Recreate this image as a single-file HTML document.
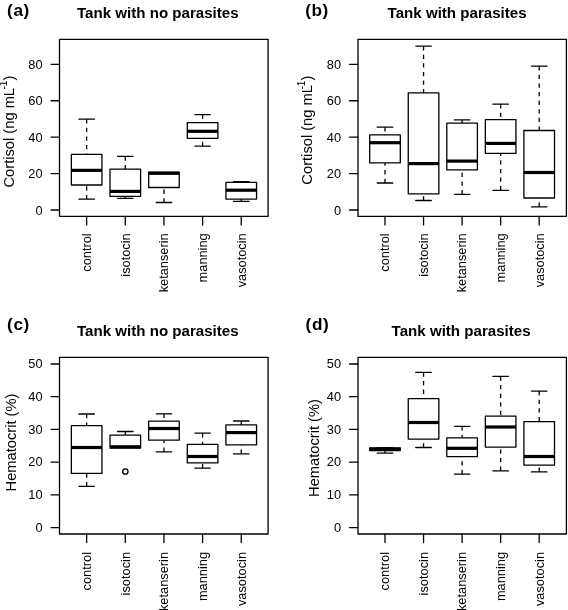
<!DOCTYPE html>
<html><head><meta charset="utf-8"><style>
html,body{margin:0;padding:0;background:#fff;}
svg{display:block;will-change:transform;}
text{font-family:"Liberation Sans",sans-serif;fill:#000;}
.s line,.s rect,.s circle{stroke:#000;stroke-width:1.3;stroke-linecap:round;stroke-linejoin:round;}
.s .w{stroke-dasharray:4.3 4.3;stroke-linecap:butt;}
.s .m{stroke-width:3.2;stroke-linecap:butt;}
.tk{font-size:12.8px;}
.yl{font-size:14.7px;}
.yc{font-size:14.7px;}
.sup{font-size:10px;}
.ti{font-size:15.1px;font-weight:bold;}
.pl{font-size:17.2px;font-weight:bold;letter-spacing:0.6px;}
</style></head><body>
<svg width="568" height="610" viewBox="0 0 568 610">
<rect width="568" height="610" fill="#fff"/>
<g class="s"><line x1="86.65" y1="119.2" x2="86.65" y2="154.4" class="w"/><line x1="86.65" y1="199.2" x2="86.65" y2="185" class="w"/><line x1="78.9" y1="119.2" x2="94.4" y2="119.2"/><line x1="78.9" y1="199.2" x2="94.4" y2="199.2"/><rect x="71.35" y="154.4" width="30.6" height="30.6" fill="#fff"/><line x1="71.35" y1="170.35" x2="101.95" y2="170.35" class="m"/><line x1="125.3" y1="156.4" x2="125.3" y2="169.2" class="w"/><line x1="125.3" y1="198.3" x2="125.3" y2="196.3" class="w"/><line x1="117.55" y1="156.4" x2="133.05" y2="156.4"/><line x1="117.55" y1="198.3" x2="133.05" y2="198.3"/><rect x="110" y="169.2" width="30.6" height="27.1" fill="#fff"/><line x1="110" y1="191.4" x2="140.6" y2="191.4" class="m"/><line x1="163.95" y1="202.5" x2="163.95" y2="187.5" class="w"/><line x1="156.2" y1="202.5" x2="171.7" y2="202.5"/><rect x="148.65" y="172.1" width="30.6" height="15.4" fill="#fff"/><line x1="148.65" y1="173.3" x2="179.25" y2="173.3" class="m"/><line x1="202.6" y1="114.6" x2="202.6" y2="122.6" class="w"/><line x1="202.6" y1="146.1" x2="202.6" y2="138.3" class="w"/><line x1="194.85" y1="114.6" x2="210.35" y2="114.6"/><line x1="194.85" y1="146.1" x2="210.35" y2="146.1"/><rect x="187.3" y="122.6" width="30.6" height="15.7" fill="#fff"/><line x1="187.3" y1="131.3" x2="217.9" y2="131.3" class="m"/><line x1="241.25" y1="181.6" x2="241.25" y2="182.4" class="w"/><line x1="241.25" y1="201.4" x2="241.25" y2="199.1" class="w"/><line x1="233.5" y1="181.6" x2="249" y2="181.6"/><line x1="233.5" y1="201.4" x2="249" y2="201.4"/><rect x="225.95" y="182.4" width="30.6" height="16.7" fill="#fff"/><line x1="225.95" y1="190.2" x2="256.55" y2="190.2" class="m"/><rect x="59.5" y="39.3" width="208.6" height="177" fill="none"/><line x1="51.05" y1="210" x2="59.5" y2="210"/><line x1="51.05" y1="173.58" x2="59.5" y2="173.58"/><line x1="51.05" y1="137.16" x2="59.5" y2="137.16"/><line x1="51.05" y1="100.74" x2="59.5" y2="100.74"/><line x1="51.05" y1="64.32" x2="59.5" y2="64.32"/><line x1="86.65" y1="216.3" x2="86.65" y2="224.9"/><line x1="125.3" y1="216.3" x2="125.3" y2="224.9"/><line x1="163.95" y1="216.3" x2="163.95" y2="224.9"/><line x1="202.6" y1="216.3" x2="202.6" y2="224.9"/><line x1="241.25" y1="216.3" x2="241.25" y2="224.9"/></g>
<text x="42.5" y="214.5" class="tk" text-anchor="end">0</text><text x="42.5" y="178.08" class="tk" text-anchor="end">20</text><text x="42.5" y="141.66" class="tk" text-anchor="end">40</text><text x="42.5" y="105.24" class="tk" text-anchor="end">60</text><text x="42.5" y="68.82" class="tk" text-anchor="end">80</text><text transform="translate(90.95,233.3) rotate(-90)" class="tk" text-anchor="end">control</text><text transform="translate(129.6,233.3) rotate(-90)" class="tk" text-anchor="end">isotocin</text><text transform="translate(168.25,233.3) rotate(-90)" class="tk" text-anchor="end">ketanserin</text><text transform="translate(206.9,233.3) rotate(-90)" class="tk" text-anchor="end">manning</text><text transform="translate(245.55,233.3) rotate(-90)" class="tk" text-anchor="end">vasotocin</text><text x="7.1" y="15.6" class="pl">(a)</text><text x="77" y="17.7" class="ti">Tank with no parasites</text><text transform="translate(13.8,131.6) rotate(-90)" text-anchor="middle" style="font-size:14.7px">Cortisol (ng mL<tspan dx="-1.5" dy="-6.5" style="font-size:10px">-1</tspan><tspan dy="6.5">)</tspan></text>
<g class="s"><line x1="385" y1="127.2" x2="385" y2="134.9" class="w"/><line x1="385" y1="183" x2="385" y2="162.9" class="w"/><line x1="377.25" y1="127.2" x2="392.75" y2="127.2"/><line x1="377.25" y1="183" x2="392.75" y2="183"/><rect x="369.7" y="134.9" width="30.6" height="28" fill="#fff"/><line x1="369.7" y1="142.7" x2="400.3" y2="142.7" class="m"/><line x1="423.55" y1="46.1" x2="423.55" y2="92.9" class="w"/><line x1="423.55" y1="200.5" x2="423.55" y2="193.9" class="w"/><line x1="415.8" y1="46.1" x2="431.3" y2="46.1"/><line x1="415.8" y1="200.5" x2="431.3" y2="200.5"/><rect x="408.25" y="92.9" width="30.6" height="101" fill="#fff"/><line x1="408.25" y1="163.6" x2="438.85" y2="163.6" class="m"/><line x1="462.1" y1="119.9" x2="462.1" y2="123.1" class="w"/><line x1="462.1" y1="194.3" x2="462.1" y2="169.9" class="w"/><line x1="454.35" y1="119.9" x2="469.85" y2="119.9"/><line x1="454.35" y1="194.3" x2="469.85" y2="194.3"/><rect x="446.8" y="123.1" width="30.6" height="46.8" fill="#fff"/><line x1="446.8" y1="161.1" x2="477.4" y2="161.1" class="m"/><line x1="500.65" y1="104.2" x2="500.65" y2="119.7" class="w"/><line x1="500.65" y1="190.4" x2="500.65" y2="153.3" class="w"/><line x1="492.9" y1="104.2" x2="508.4" y2="104.2"/><line x1="492.9" y1="190.4" x2="508.4" y2="190.4"/><rect x="485.35" y="119.7" width="30.6" height="33.6" fill="#fff"/><line x1="485.35" y1="143.4" x2="515.95" y2="143.4" class="m"/><line x1="539.2" y1="66.2" x2="539.2" y2="130.5" class="w"/><line x1="539.2" y1="206.8" x2="539.2" y2="198" class="w"/><line x1="531.45" y1="66.2" x2="546.95" y2="66.2"/><line x1="531.45" y1="206.8" x2="546.95" y2="206.8"/><rect x="523.9" y="130.5" width="30.6" height="67.5" fill="#fff"/><line x1="523.9" y1="172.5" x2="554.5" y2="172.5" class="m"/><rect x="358" y="39.3" width="208.4" height="177" fill="none"/><line x1="349.55" y1="210" x2="358" y2="210"/><line x1="349.55" y1="173.58" x2="358" y2="173.58"/><line x1="349.55" y1="137.16" x2="358" y2="137.16"/><line x1="349.55" y1="100.74" x2="358" y2="100.74"/><line x1="349.55" y1="64.32" x2="358" y2="64.32"/><line x1="385" y1="216.3" x2="385" y2="224.9"/><line x1="423.55" y1="216.3" x2="423.55" y2="224.9"/><line x1="462.1" y1="216.3" x2="462.1" y2="224.9"/><line x1="500.65" y1="216.3" x2="500.65" y2="224.9"/><line x1="539.2" y1="216.3" x2="539.2" y2="224.9"/></g>
<text x="341" y="214.5" class="tk" text-anchor="end">0</text><text x="341" y="178.08" class="tk" text-anchor="end">20</text><text x="341" y="141.66" class="tk" text-anchor="end">40</text><text x="341" y="105.24" class="tk" text-anchor="end">60</text><text x="341" y="68.82" class="tk" text-anchor="end">80</text><text transform="translate(389.3,233.3) rotate(-90)" class="tk" text-anchor="end">control</text><text transform="translate(427.85,233.3) rotate(-90)" class="tk" text-anchor="end">isotocin</text><text transform="translate(466.4,233.3) rotate(-90)" class="tk" text-anchor="end">ketanserin</text><text transform="translate(504.95,233.3) rotate(-90)" class="tk" text-anchor="end">manning</text><text transform="translate(543.5,233.3) rotate(-90)" class="tk" text-anchor="end">vasotocin</text><text x="305.2" y="15.6" class="pl">(b)</text><text x="387.6" y="17.7" class="ti">Tank with parasites</text><text transform="translate(311.6,130.15) rotate(-90)" text-anchor="middle" style="font-size:14.7px">Cortisol (ng mL<tspan dx="-4.4" dy="-6.5" style="font-size:10px">-1</tspan><tspan dy="6.5">)</tspan></text>
<g class="s"><line x1="86.65" y1="414" x2="86.65" y2="425.6" class="w"/><line x1="86.65" y1="486.3" x2="86.65" y2="473.4" class="w"/><line x1="78.9" y1="414" x2="94.4" y2="414"/><line x1="78.9" y1="486.3" x2="94.4" y2="486.3"/><rect x="71.35" y="425.6" width="30.6" height="47.8" fill="#fff"/><line x1="71.35" y1="447.5" x2="101.95" y2="447.5" class="m"/><line x1="125.3" y1="431.5" x2="125.3" y2="435.2" class="w"/><line x1="117.55" y1="431.5" x2="133.05" y2="431.5"/><rect x="110" y="435.2" width="30.6" height="12.8" fill="#fff"/><line x1="110" y1="446.8" x2="140.6" y2="446.8" class="m"/><circle cx="125.3" cy="471.5" r="2.7" fill="none"/><line x1="163.95" y1="413.8" x2="163.95" y2="421.2" class="w"/><line x1="163.95" y1="451.8" x2="163.95" y2="440.2" class="w"/><line x1="156.2" y1="413.8" x2="171.7" y2="413.8"/><line x1="156.2" y1="451.8" x2="171.7" y2="451.8"/><rect x="148.65" y="421.2" width="30.6" height="19" fill="#fff"/><line x1="148.65" y1="428.5" x2="179.25" y2="428.5" class="m"/><line x1="202.6" y1="433.1" x2="202.6" y2="444.4" class="w"/><line x1="202.6" y1="468.1" x2="202.6" y2="462.9" class="w"/><line x1="194.85" y1="433.1" x2="210.35" y2="433.1"/><line x1="194.85" y1="468.1" x2="210.35" y2="468.1"/><rect x="187.3" y="444.4" width="30.6" height="18.5" fill="#fff"/><line x1="187.3" y1="456.5" x2="217.9" y2="456.5" class="m"/><line x1="241.25" y1="421" x2="241.25" y2="424.9" class="w"/><line x1="241.25" y1="453.9" x2="241.25" y2="444.9" class="w"/><line x1="233.5" y1="421" x2="249" y2="421"/><line x1="233.5" y1="453.9" x2="249" y2="453.9"/><rect x="225.95" y="424.9" width="30.6" height="20" fill="#fff"/><line x1="225.95" y1="432.6" x2="256.55" y2="432.6" class="m"/><rect x="59.5" y="357.3" width="208.6" height="176.7" fill="none"/><line x1="51.05" y1="527.6" x2="59.5" y2="527.6"/><line x1="51.05" y1="494.88" x2="59.5" y2="494.88"/><line x1="51.05" y1="462.16" x2="59.5" y2="462.16"/><line x1="51.05" y1="429.44" x2="59.5" y2="429.44"/><line x1="51.05" y1="396.72" x2="59.5" y2="396.72"/><line x1="51.05" y1="364" x2="59.5" y2="364"/><line x1="86.65" y1="534" x2="86.65" y2="542.6"/><line x1="125.3" y1="534" x2="125.3" y2="542.6"/><line x1="163.95" y1="534" x2="163.95" y2="542.6"/><line x1="202.6" y1="534" x2="202.6" y2="542.6"/><line x1="241.25" y1="534" x2="241.25" y2="542.6"/></g>
<text x="42.5" y="531.8" class="tk" text-anchor="end">0</text><text x="42.5" y="499.08" class="tk" text-anchor="end">10</text><text x="42.5" y="466.36" class="tk" text-anchor="end">20</text><text x="42.5" y="433.64" class="tk" text-anchor="end">30</text><text x="42.5" y="400.92" class="tk" text-anchor="end">40</text><text x="42.5" y="368.2" class="tk" text-anchor="end">50</text><text transform="translate(90.95,552) rotate(-90)" class="tk" text-anchor="end">control</text><text transform="translate(129.6,552) rotate(-90)" class="tk" text-anchor="end">isotocin</text><text transform="translate(168.25,552) rotate(-90)" class="tk" text-anchor="end">ketanserin</text><text transform="translate(206.9,552) rotate(-90)" class="tk" text-anchor="end">manning</text><text transform="translate(245.55,552) rotate(-90)" class="tk" text-anchor="end">vasotocin</text><text x="7.1" y="329.7" class="pl">(c)</text><text x="77" y="335.7" class="ti">Tank with no parasites</text><text transform="translate(15.7,442.5) rotate(-90)" class="yl" text-anchor="middle">Hematocrit (%)</text>
<g class="s"><line x1="385" y1="453.1" x2="385" y2="450.6" class="w"/><line x1="377.25" y1="447.6" x2="392.75" y2="447.6"/><line x1="377.25" y1="453.1" x2="392.75" y2="453.1"/><rect x="369.7" y="447.8" width="30.6" height="2.8" fill="#fff"/><line x1="369.7" y1="449.2" x2="400.3" y2="449.2" class="m"/><line x1="423.55" y1="372.4" x2="423.55" y2="398.7" class="w"/><line x1="423.55" y1="447.5" x2="423.55" y2="439.1" class="w"/><line x1="415.8" y1="372.4" x2="431.3" y2="372.4"/><line x1="415.8" y1="447.5" x2="431.3" y2="447.5"/><rect x="408.25" y="398.7" width="30.6" height="40.4" fill="#fff"/><line x1="408.25" y1="422.5" x2="438.85" y2="422.5" class="m"/><line x1="462.1" y1="426.3" x2="462.1" y2="437.8" class="w"/><line x1="462.1" y1="474.1" x2="462.1" y2="456.6" class="w"/><line x1="454.35" y1="426.3" x2="469.85" y2="426.3"/><line x1="454.35" y1="474.1" x2="469.85" y2="474.1"/><rect x="446.8" y="437.8" width="30.6" height="18.8" fill="#fff"/><line x1="446.8" y1="448.3" x2="477.4" y2="448.3" class="m"/><line x1="500.65" y1="376.4" x2="500.65" y2="416.2" class="w"/><line x1="500.65" y1="470.9" x2="500.65" y2="447.1" class="w"/><line x1="492.9" y1="376.4" x2="508.4" y2="376.4"/><line x1="492.9" y1="470.9" x2="508.4" y2="470.9"/><rect x="485.35" y="416.2" width="30.6" height="30.9" fill="#fff"/><line x1="485.35" y1="427" x2="515.95" y2="427" class="m"/><line x1="539.2" y1="391.1" x2="539.2" y2="421.6" class="w"/><line x1="539.2" y1="471.9" x2="539.2" y2="465.2" class="w"/><line x1="531.45" y1="391.1" x2="546.95" y2="391.1"/><line x1="531.45" y1="471.9" x2="546.95" y2="471.9"/><rect x="523.9" y="421.6" width="30.6" height="43.6" fill="#fff"/><line x1="523.9" y1="456.5" x2="554.5" y2="456.5" class="m"/><rect x="358" y="357.3" width="208.4" height="176.7" fill="none"/><line x1="349.55" y1="527.6" x2="358" y2="527.6"/><line x1="349.55" y1="494.88" x2="358" y2="494.88"/><line x1="349.55" y1="462.16" x2="358" y2="462.16"/><line x1="349.55" y1="429.44" x2="358" y2="429.44"/><line x1="349.55" y1="396.72" x2="358" y2="396.72"/><line x1="349.55" y1="364" x2="358" y2="364"/><line x1="385" y1="534" x2="385" y2="542.6"/><line x1="423.55" y1="534" x2="423.55" y2="542.6"/><line x1="462.1" y1="534" x2="462.1" y2="542.6"/><line x1="500.65" y1="534" x2="500.65" y2="542.6"/><line x1="539.2" y1="534" x2="539.2" y2="542.6"/></g>
<text x="341" y="531.8" class="tk" text-anchor="end">0</text><text x="341" y="499.08" class="tk" text-anchor="end">10</text><text x="341" y="466.36" class="tk" text-anchor="end">20</text><text x="341" y="433.64" class="tk" text-anchor="end">30</text><text x="341" y="400.92" class="tk" text-anchor="end">40</text><text x="341" y="368.2" class="tk" text-anchor="end">50</text><text transform="translate(389.3,552) rotate(-90)" class="tk" text-anchor="end">control</text><text transform="translate(427.85,552) rotate(-90)" class="tk" text-anchor="end">isotocin</text><text transform="translate(466.4,552) rotate(-90)" class="tk" text-anchor="end">ketanserin</text><text transform="translate(504.95,552) rotate(-90)" class="tk" text-anchor="end">manning</text><text transform="translate(543.5,552) rotate(-90)" class="tk" text-anchor="end">vasotocin</text><text x="305.6" y="329.9" class="pl">(d)</text><text x="391.6" y="335.7" class="ti">Tank with parasites</text><text transform="translate(318.6,448) rotate(-90)" class="yl" text-anchor="middle">Hematocrit (%)</text>
</svg>
</body></html>
